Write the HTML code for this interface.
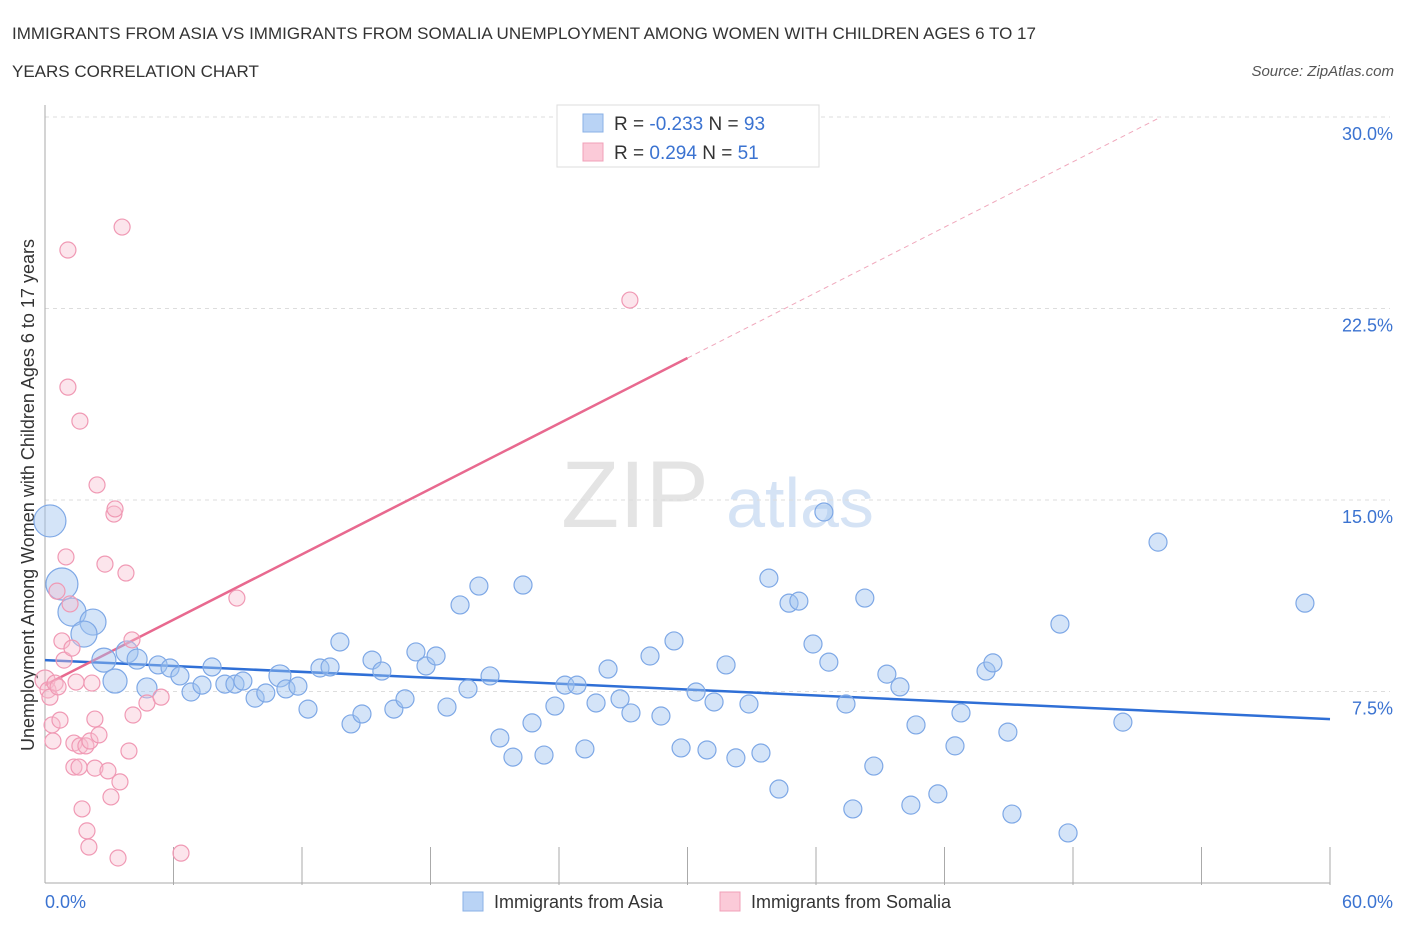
<!DOCTYPE html>
<html><head><meta charset="utf-8"><style>
body{margin:0;background:#fff;font-family:"Liberation Sans",sans-serif;}
svg text{font-family:"Liberation Sans",sans-serif;}
</style></head><body>
<svg id="c" width="1406" height="930">
<text x="12" y="39" font-size="17" fill="#333">IMMIGRANTS FROM ASIA VS IMMIGRANTS FROM SOMALIA UNEMPLOYMENT AMONG WOMEN WITH CHILDREN AGES 6 TO 17</text>
<text x="12" y="77" font-size="17" fill="#333">YEARS CORRELATION CHART</text>
<text x="1394" y="76" font-size="15" fill="#555" font-style="italic" text-anchor="end">Source: ZipAtlas.com</text>
<text x="635" y="527" font-size="95" fill="#e4e4e4" font-family="Liberation Serif" text-anchor="middle">ZIP</text>
<text x="800" y="527" font-size="70" fill="#d5e3f5" text-anchor="middle">atlas</text>
<text transform="translate(34,495) rotate(-90)" font-size="18" fill="#333" text-anchor="middle">Unemployment Among Women with Children Ages 6 to 17 years</text>
<g id="grid"></g><g id="lines"></g><g id="pts"></g>
<g>
<rect x="557" y="105" width="262" height="62" fill="#fff" stroke="#ddd"/>
<rect x="583" y="114" width="20" height="18" fill="#b9d3f5" stroke="#8ab0e6"/>
<rect x="583" y="143" width="20" height="18" fill="#fbcad8" stroke="#f0a0b8"/>
<text x="614" y="130" font-size="19" fill="#333">R = <tspan fill="#3b73d1">-0.233</tspan>   N = <tspan fill="#3b73d1">93</tspan></text>
<text x="614" y="159" font-size="19" fill="#333">R = <tspan fill="#3b73d1"> 0.294</tspan>   N = <tspan fill="#3b73d1"> 51</tspan></text>
</g>
<g>
<rect x="463" y="892" width="20" height="19" fill="#b9d3f5" stroke="#8ab0e6"/>
<text x="494" y="908" font-size="18" fill="#333">Immigrants from Asia</text>
<rect x="720" y="892" width="20" height="19" fill="#fbcad8" stroke="#f0a0b8"/>
<text x="751" y="908" font-size="18" fill="#333">Immigrants from Somalia</text>
</g>
</svg>
<script>
const yTicks=[7.5,15,22.5,30];
const yTickLabels=["7.5%","15.0%","22.5%","30.0%"];
const xTickCount=10;
const asiaX=[0.23,0.79,1.26,2.24,1.82,2.75,3.27,3.83,4.30,4.76,5.28,5.84,6.30,6.82,7.33,7.80,8.40,8.87,9.24,9.81,10.31,10.97,11.25,11.81,12.28,12.84,13.31,13.77,14.29,14.80,15.27,15.73,16.29,16.81,17.32,17.79,18.26,18.77,19.38,19.75,20.26,20.78,21.24,21.85,22.32,22.74,23.30,23.81,24.28,24.84,25.21,25.73,26.29,26.85,27.36,28.25,28.76,29.37,29.70,30.40,30.91,31.24,31.80,32.26,32.87,33.43,33.80,34.27,34.74,35.20,35.86,36.37,36.60,37.40,37.72,38.28,38.70,39.31,39.92,40.43,40.67,41.69,42.49,42.77,43.94,44.26,44.96,45.15,47.39,47.77,50.33,51.97,58.83];
const asiaY=[14.18,11.71,10.61,10.22,9.75,8.73,7.91,9.05,8.77,7.64,8.54,8.42,8.11,7.48,7.75,8.46,7.79,7.79,7.91,7.24,7.44,8.11,7.60,7.71,6.81,8.42,8.46,9.44,6.23,6.62,8.73,8.30,6.81,7.21,9.05,8.50,8.89,6.89,10.89,7.60,11.63,8.11,5.68,4.93,11.67,6.27,5.01,6.93,7.75,7.75,5.25,7.05,8.38,7.21,6.66,8.89,6.54,9.48,5.29,7.48,5.21,7.09,8.54,4.90,7.01,5.09,11.94,3.68,10.96,11.04,9.36,14.53,8.65,7.01,2.90,11.16,4.58,8.18,7.68,3.05,6.19,3.49,5.37,6.66,8.30,8.62,5.91,2.70,10.14,1.96,6.30,13.35,10.96];
const asiaSize=[16,16,14,13,13,12,12,11,10,10,9,9,9,9,9,9,9,9,9,9,9,11,9,9,9,9,9,9,9,9,9,9,9,9,9,9,9,9,9,9,9,9,9,9,9,9,9,9,9,9,9,9,9,9,9,9,9,9,9,9,9,9,9,9,9,9,9,9,9,9,9,9,9,9,9,9,9,9,9,9,9,9,9,9,9,9,9,9,9,9,9,9,9];
const somX=[0,0.14,0.23,0.33,0.37,0.47,0.61,0.70,0.56,0.79,0.89,0.98,1.07,1.07,1.17,1.26,1.35,1.45,1.35,1.59,1.63,1.63,1.73,1.91,1.96,2.05,2.10,2.19,2.33,2.43,2.52,2.33,2.80,2.94,3.08,3.22,3.27,3.41,3.50,3.60,3.78,3.92,4.06,4.11,4.76,5.42,6.35,8.96,27.31];
const somY=[7.95,7.56,7.28,6.19,5.56,7.83,7.68,6.38,11.43,9.48,8.73,12.77,24.79,19.42,10.93,9.20,5.48,7.87,4.54,4.54,18.09,5.37,2.90,5.37,2.04,1.41,5.56,7.83,6.42,15.59,5.80,4.50,12.49,4.39,3.37,14.45,14.65,0.98,3.96,25.69,12.14,5.17,9.52,6.58,7.05,7.28,1.17,11.16,22.83];
const asiaTrend=[8.73,6.42];
const somTrend=[7.75,0.427];
const X0=45,X1=1330,Y0=883,YTOP=117;
const sx=v=>X0+v/60*(X1-X0);
const sy=v=>Y0-v/30*(Y0-YTOP);
const NS="http://www.w3.org/2000/svg";
function mk(t,a,p){const e=document.createElementNS(NS,t);for(const k in a)e.setAttribute(k,a[k]);p.appendChild(e);return e;}
const grid=document.getElementById('grid');
yTicks.forEach((t,i)=>{
  const l=mk('line',{x1:X0,x2:X1+60,y1:sy(t),y2:sy(t),stroke:'#ddd','stroke-dasharray':'4,4'},grid);
  
  
  const tx=mk('text',{x:1393,y:sy(t)+23,'font-size':18,fill:'#3b73d1','text-anchor':'end'},grid);
  tx.textContent=yTickLabels[i];
  
  
});
const ax=mk('line',{x1:X0,x2:X1,y1:Y0,y2:Y0,stroke:'#aaa'},grid);


const ay=mk('line',{x1:X0,x2:X0,y1:105,y2:Y0,stroke:'#aaa'},grid);


for(let i=1;i<=xTickCount;i++){
  const x=sx(i*6);
  const t=mk('line',{x1:x,x2:x,y1:Y0-36,y2:Y0+2,stroke:'#aaa'},grid);
  
  
}
[["0.0%",X0,'start'],["60.0%",1393,'end']].forEach(([s,x,a])=>{
  const t=mk('text',{x:x,y:908,'font-size':18,fill:'#3b73d1','text-anchor':a},grid);
  t.textContent=s;
  
  
});
const pts=document.getElementById('pts');
asiaX.forEach((v,i)=>{
  const c=mk('circle',{cx:sx(v),cy:sy(asiaY[i]),r:asiaSize[i],fill:'rgba(160,196,240,0.45)',stroke:'#7ea8e6','stroke-width':1.2},pts);
  
  
});
somX.forEach((v,i)=>{
  const c=mk('circle',{cx:sx(v),cy:sy(somY[i]),r:i===0?10:8,fill:'rgba(248,190,208,0.4)',stroke:'#f099b4','stroke-width':1.2},pts);
  
  
});
const lines=document.getElementById('lines');
const bl=mk('line',{x1:sx(0),y1:sy(asiaTrend[0]),x2:sx(60),y2:sy(asiaTrend[1]),stroke:'#2f6fd6','stroke-width':2.5},lines);


const pl=mk('line',{x1:sx(0),y1:sy(somTrend[0]),x2:sx(30),y2:sy(somTrend[0]+somTrend[1]*30),stroke:'#e8698f','stroke-width':2.5},lines);


const xe=(30-somTrend[0])/somTrend[1];
const pd=mk('line',{x1:sx(30),y1:sy(somTrend[0]+somTrend[1]*30),x2:sx(xe),y2:sy(30),stroke:'#f0a8bc','stroke-width':1,'stroke-dasharray':'5,4'},lines);


</script>
</body></html>
